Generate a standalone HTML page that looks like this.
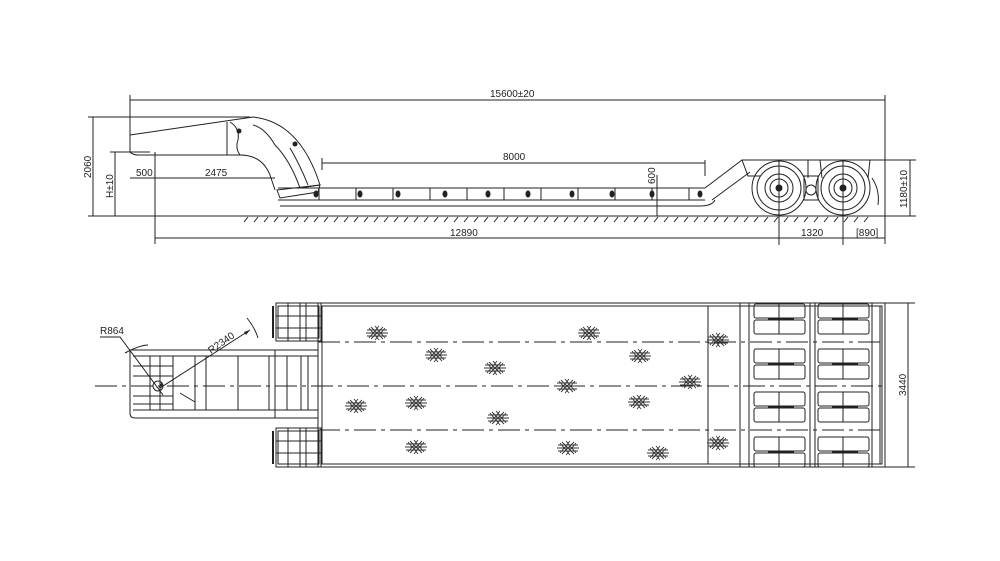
<!DOCTYPE html>
<html><head><meta charset="utf-8"><style>
html,body{margin:0;padding:0;background:#fff;width:1000px;height:561px;overflow:hidden}
svg{display:block}
text{font-family:"Liberation Sans",sans-serif;font-size:10px;fill:#222}
</style></head><body>
<svg width="1000" height="561" viewBox="0 0 1000 561" xmlns="http://www.w3.org/2000/svg">
<defs>
<g id="st" stroke="#333" stroke-width="0.9" fill="none">
<path d="M-10,-3 L10,-3 M-11,0 L11,0 M-10,3 L10,3 M-6,-6 L6,6 M-6,6 L6,-6 M-2,-7 L8,5 M2,-7 L-8,5 M-8,-5 L2,7 M8,-5 L-2,7"/>
</g>
<g id="tr" stroke="#222" stroke-width="1" fill="none">
<rect x="0" y="0" width="51" height="14" rx="2"/>
<rect x="0" y="16" width="51" height="14" rx="2"/>
<path d="M25,0 V30"/>
<path d="M14,15 H40" stroke-width="2.5"/>
</g>
</defs>
<g stroke="#222" stroke-width="1" fill="none">
<!-- SIDE VIEW -->
<!-- top dimension -->
<path d="M130,100 H885 M130,95 V152 M885,95 V216"/>
<!-- gooseneck -->
<path d="M130,135 L253,117 Q300,122 320,185 L300,188 Q290,160 275,145 Q265,128 253,125" />
<path d="M130,135 V152 Q133,155 138,155 H240 Q262,155 270,175 L275,190"/>
<path d="M227,122 V155"/>
<path d="M230,122 Q240,128 238,140 Q235,148 240,155"/>
<path d="M290,148 Q300,165 308,185"/>
<ellipse cx="239" cy="131" rx="2" ry="2" fill="#222"/>
<ellipse cx="295" cy="144" rx="2" ry="2" fill="#222"/>
<path d="M277,190 L320,185 L318,192 L280,198 Z"/>
<!-- lowbed deck -->
<path d="M278,188 H705 M278,200 H705 M280,206 H700 Q712,206 715,200"/>
<path d="M705,188 L742,160 H882 M712,200 L750,172"/>
<path d="M742,160 L748,176 H760 M870,160 L868,178 M820,160 L822,178 M808,160 L808,178"/>
<g>
<path d="M319,188 V200 M356,188 V200 M393,188 V200 M430,188 V200 M467,188 V200 M504,188 V200 M541,188 V200 M578,188 V200 M615,188 V200 M652,188 V200 M689,188 V200"/>
</g>
<g fill="#222">
<ellipse cx="316" cy="194" rx="2" ry="3"/><ellipse cx="360" cy="194" rx="2" ry="3"/><ellipse cx="398" cy="194" rx="2" ry="3"/><ellipse cx="445" cy="194" rx="2" ry="3"/><ellipse cx="488" cy="194" rx="2" ry="3"/><ellipse cx="528" cy="194" rx="2" ry="3"/><ellipse cx="572" cy="194" rx="2" ry="3"/><ellipse cx="612" cy="194" rx="2" ry="3"/><ellipse cx="652" cy="194" rx="2" ry="3"/><ellipse cx="700" cy="194" rx="2" ry="3"/>
</g>
<!-- wheels -->
<circle cx="779" cy="188" r="27"/><circle cx="779" cy="188" r="22"/><circle cx="779" cy="188" r="14"/><circle cx="779" cy="188" r="9"/><circle cx="779" cy="188" r="3" fill="#222"/>
<circle cx="843" cy="188" r="27"/><circle cx="843" cy="188" r="22"/><circle cx="843" cy="188" r="14"/><circle cx="843" cy="188" r="9"/><circle cx="843" cy="188" r="3" fill="#222"/>
<circle cx="811" cy="190" r="5"/>
<path d="M804,176 H818 V200 H804 Z"/>
<path d="M779,160 V245 M843,160 V245"/>
<path d="M872,178 Q880,190 878,205"/>
<!-- ground -->
<path d="M240,216 H900 M130,216 H240"/>
<path d="M244,222 l4,-5 M254,222 l4,-5 M264,222 l4,-5 M274,222 l4,-5 M284,222 l4,-5 M294,222 l4,-5 M304,222 l4,-5 M314,222 l4,-5 M324,222 l4,-5 M334,222 l4,-5 M344,222 l4,-5 M354,222 l4,-5 M364,222 l4,-5 M374,222 l4,-5 M384,222 l4,-5 M394,222 l4,-5 M404,222 l4,-5 M414,222 l4,-5 M424,222 l4,-5 M434,222 l4,-5 M444,222 l4,-5 M454,222 l4,-5 M464,222 l4,-5 M474,222 l4,-5 M484,222 l4,-5 M494,222 l4,-5 M504,222 l4,-5 M514,222 l4,-5 M524,222 l4,-5 M534,222 l4,-5 M544,222 l4,-5 M554,222 l4,-5 M564,222 l4,-5 M574,222 l4,-5 M584,222 l4,-5 M594,222 l4,-5 M604,222 l4,-5 M614,222 l4,-5 M624,222 l4,-5 M634,222 l4,-5 M644,222 l4,-5 M654,222 l4,-5 M664,222 l4,-5 M674,222 l4,-5 M684,222 l4,-5 M694,222 l4,-5 M704,222 l4,-5 M714,222 l4,-5 M724,222 l4,-5 M734,222 l4,-5 M744,222 l4,-5 M754,222 l4,-5 M764,222 l4,-5 M774,222 l4,-5 M784,222 l4,-5 M794,222 l4,-5 M804,222 l4,-5 M814,222 l4,-5 M824,222 l4,-5 M834,222 l4,-5 M844,222 l4,-5 M854,222 l4,-5 M864,222 l4,-5"/>
<!-- dims side -->
<path d="M155,152 V244 M155,238 H885 M779,238 H843 M93,117 V216 M88,117 H250 M88,216 H130 M115,152 V216 M110,152 H150 M130,178 H275 M322,163 H705 M705,160 V176 M322,158 V170 M657,175 V216 M910,160 V216 M880,160 H916 M885,216 H916 M885,216 V244"/>
<!-- TOP VIEW -->
<rect x="318" y="303" width="567" height="164"/>
<rect x="322" y="306" width="560" height="158"/>
<path d="M708,306 V464 M740,303 V467 M880,306 V464 M885,303 H915 M885,467 H915 M908,303 V467"/>
<path d="M318,342 H885 M318,430 H885 M95,386 H885" stroke-dasharray="22,5,4,5"/>
<!-- rear tires -->
<use href="#tr" x="754" y="304"/><use href="#tr" x="818" y="304"/>
<use href="#tr" x="754" y="349"/><use href="#tr" x="818" y="349"/>
<use href="#tr" x="754" y="392"/><use href="#tr" x="818" y="392"/>
<use href="#tr" x="754" y="437"/><use href="#tr" x="818" y="437"/>
<path d="M749,303 V467 M810,303 V467 M815,303 V467 M872,303 V467"/>
<!-- gooseneck top -->
<path d="M130,350 H318 M130,350 V413 Q130,418 135,418 H318 M133,356 H318 M133,410 H318 M195,356 V410 M206,356 V410 M238,356 V410 M269,356 V410 M287,356 V410 M301,356 V410 M308,356 V410"/>
<path d="M133,366 H173 M133,376 H173 M133,396 H173 M133,404 H173 M173,356 V410 M150,356 V410 M160,356 V410 M180,393 L195,402"/>
<path d="M275,350 V418 M318,350 V418"/>
<!-- front tire blocks -->
<rect x="276" y="303" width="45" height="38"/><rect x="278" y="306" width="41" height="32"/>
<path d="M288,303 V341 M300,303 V341 M306,303 V341 M276,316 H321 M276,328 H321"/>
<rect x="276" y="428" width="45" height="39"/><rect x="278" y="431" width="41" height="33"/>
<path d="M288,428 V467 M300,428 V467 M306,428 V467 M276,441 H321 M276,453 H321"/>
<path d="M273,306 V338 M273,431 V464" stroke-width="2"/>
<!-- radius annotations -->
<path d="M100,337 H120 L163,395 M160,388 L250,330 M125,353 Q140,345 148,345 M247,318 Q255,328 258,338"/>
<circle cx="158" cy="386" r="5"/>
</g>
<g fill="#222">
<path d="M158,388 l4,-6 l1,3z M250,330 l-6,2 l2,3z"/>
</g>
<!-- stars -->
<use href="#st" x="377" y="333"/><use href="#st" x="589" y="333"/><use href="#st" x="436" y="355"/><use href="#st" x="640" y="356"/><use href="#st" x="495" y="368"/><use href="#st" x="567" y="386"/><use href="#st" x="690" y="382"/><use href="#st" x="356" y="406"/><use href="#st" x="416" y="403"/><use href="#st" x="498" y="418"/><use href="#st" x="639" y="402"/><use href="#st" x="416" y="447"/><use href="#st" x="568" y="448"/><use href="#st" x="658" y="453"/><use href="#st" x="718" y="340"/><use href="#st" x="718" y="443"/>
<!-- labels -->
<text x="490" y="97">15600±20</text>
<text x="503" y="160">8000</text>
<text x="136" y="176">500</text>
<text x="205" y="176">2475</text>
<text x="450" y="236">12890</text>
<text x="801" y="236">1320</text>
<text x="856" y="236">[890]</text>
<text transform="translate(91,178) rotate(-90)">2060</text>
<text transform="translate(113,198) rotate(-90)">H±10</text>
<text transform="translate(655,184) rotate(-90)">600</text>
<text transform="translate(907,208) rotate(-90)">1180±10</text>
<text transform="translate(906,396) rotate(-90)">3440</text>
<text x="100" y="334">R864</text>
<text transform="translate(211,354) rotate(-35)">R2340</text>
</svg>
</body></html>
